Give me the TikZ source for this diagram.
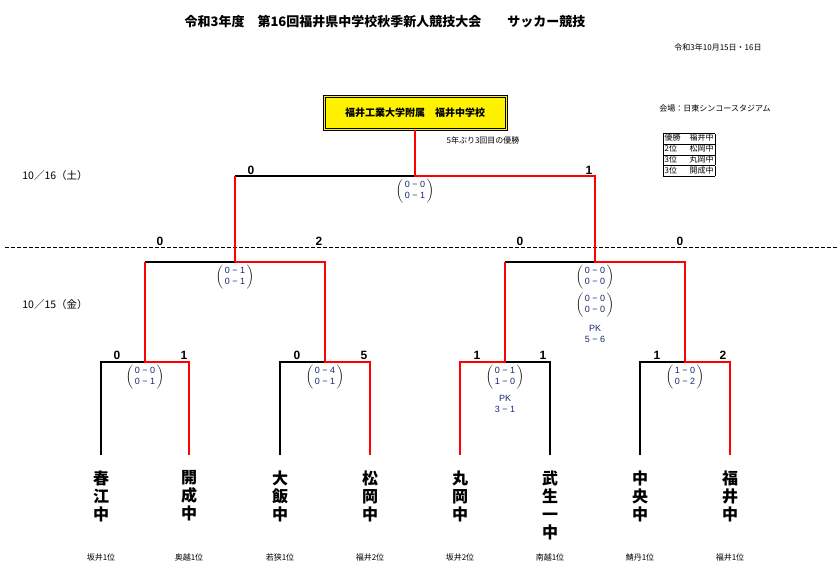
\documentclass[tikz,border=0pt]{standalone}
\usepackage{fontspec}
\setmainfont{Liberation Sans}
\newfontfamily\jp{Noto Sans CJK JP}
\definecolor{scb}{RGB}{20,40,110}
\newcommand{\pr}[2]{$\left(\begin{array}{@{\,}c@{\,}}\mbox{\color{scb}#1}\\[1pt]\mbox{\color{scb}#2}\end{array}\right)$}
\begin{document}
\begin{tikzpicture}[x=1pt,y=-1pt,
  bk/.style={line width=1.6pt,black},
  rd/.style={line width=2.2pt,red},
  num/.style={font=\bfseries\fontsize{12}{12}\selectfont},
  sc/.style={font=\fontsize{9}{10}\selectfont,inner sep=0pt},
  team/.style={font=\jp\bfseries\fontsize{16}{18}\selectfont,align=center},
  sm/.style={font=\jp\fontsize{8}{9}\selectfont}]
\useasboundingbox (0,0) rectangle (837,587);
\node[font=\jp\bfseries\fontsize{13}{15}\selectfont] (title) at (385,22) {令和3年度　第16回福井県中学校秋季新人競技大会　　サッカー競技};
\node[sm] (date) at (718,47) {令和3年10月15日・16日};
\node[draw,line width=0.8pt,fill=yellow,minimum width=184pt,minimum height=35pt,font=\jp\bfseries\fontsize{10}{11}\selectfont] (win) at (415,112.5) {福井工業大学附属　福井中学校};
\draw[line width=0.6pt] ([shift={(2.5,-2.5)}]win.south west) rectangle ([shift={(-2.5,2.5)}]win.north east);
\node[sm] (note) at (483,140) {5年ぶり3回目の優勝};
\node[sm] (venue) at (715,108) {会場：日東シンコースタジアム};
\node[sm,anchor=north west,inner sep=0pt] (tab) at (663,133) {\setlength{\tabcolsep}{1.5pt}\renewcommand{\arraystretch}{1.15}\begin{tabular}{|l@{\hspace{9pt}}l|}\hline 優勝&福井中\\\hline 2位&松岡中\\\hline 3位&丸岡中\\\hline 3位&開成中\\\hline\end{tabular}};
\node[font=\jp\fontsize{10.5}{12}\selectfont] (d16) at (55,176) {10／16（土）};
\node[font=\jp\fontsize{10.5}{12}\selectfont] (d15) at (55,305) {10／15（金）};
\draw[line width=0.5pt,dash pattern=on 4pt off 2pt] (5,247) -- (837,247);
% coordinates
\foreach \n/\x in {a/101,b/189,c/280,d/370,e/460,f/550,g/640,h/730}{\coordinate (\n) at (\x,455); \coordinate (\n-t) at (\x,362);}
\coordinate (m1) at (145,362); \coordinate (m1t) at (145,262);
\coordinate (m2) at (325,362); \coordinate (m2t) at (325,262);
\coordinate (m3) at (505,362); \coordinate (m3t) at (505,262);
\coordinate (m4) at (685,362); \coordinate (m4t) at (685,262);
\coordinate (s1) at (235,262); \coordinate (s1t) at (235,176);
\coordinate (s2) at (595,262); \coordinate (s2t) at (595,176);
\coordinate (fin) at (415,176);
% black
\draw[bk] (a) -- (a-t) -- (m1);
\draw[bk] (c) -- (c-t) -- (m2);
\draw[bk] (f) -- (f-t) -- (m3);
\draw[bk] (g) -- (g-t) -- (m4);
\draw[bk] (m1t) -- (s1); \draw[bk] (m3t) -- (s2);
\draw[bk] (s1t) -- (fin);
% red
\draw[rd] (m1t) -- (m1) -- (b-t) -- (b);
\draw[rd] (s1) -- (m2t) -- (m2) -- (d-t) -- (d);
\draw[rd] (s1) -- (s1t);
\draw[rd] (m3t) -- (m3) -- (e-t) -- (e);
\draw[rd] (win.south) -- (fin) -- (s2t) -- (s2) -- (m4t) -- (m4) -- (h-t) -- (h);
% numbers
\foreach \x/\y/\t in {251/170/0,589/170/1,160/241/0,319/241/2,520/241/0,680/241/0,117/355/0,184/355/1,297/355/0,364/355/5,477/355/1,543/355/1,657/355/1,723/355/2}
  \node[num] at (\x,\y) {\t};
\node[sc] (p0) at (415,191) {\pr{0 − 0}{0 − 1}};
\node[sc] (p1) at (235,277) {\pr{0 − 1}{0 − 1}};
\node[sc] (p2) at (595,277) {\pr{0 − 0}{0 − 0}};
\node[sc] (p3) at (595,305) {\pr{0 − 0}{0 − 0}};
\node[sc,align=center,text=scb] (pk1) at (595,334) {PK\\[1pt]5 − 6};
\node[sc] (q1) at (145,377) {\pr{0 − 0}{0 − 1}};
\node[sc] (q2) at (325,377) {\pr{0 − 4}{0 − 1}};
\node[sc] (q3) at (505,377) {\pr{0 − 1}{1 − 0}};
\node[sc,align=center,text=scb] (pk2) at (505,404) {PK\\[1pt]3 − 1};
\node[sc] (q4) at (685,377) {\pr{1 − 0}{0 − 2}};
% teams
\foreach \x/\t/\r in {101/春\\江\\中/坂井1位,189/開\\成\\中/奥越1位,280/大\\飯\\中/若狭1位,370/松\\岡\\中/福井2位,460/丸\\岡\\中/坂井2位,550/武\\生\\一\\中/南越1位,640/中\\央\\中/鯖丹1位,730/福\\井\\中/福井1位}{
  \node[team,anchor=north] at (\x,467) {\t};
  \node[sm] at (\x,557) {\r};}
\end{tikzpicture}
\end{document}
